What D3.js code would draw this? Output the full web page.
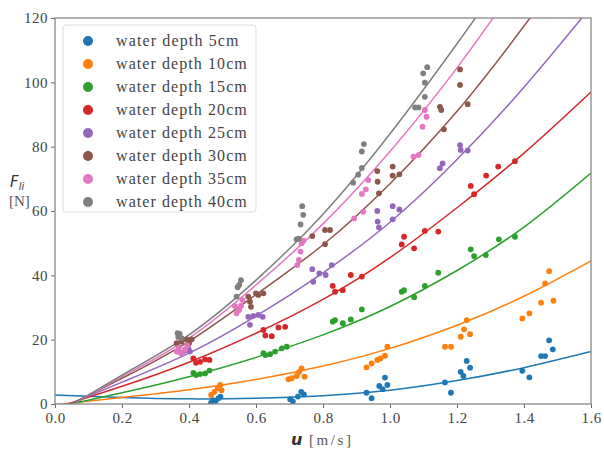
<!DOCTYPE html>
<html>
<head>
<meta charset="utf-8">
<script src="https://cdn.jsdelivr.net/npm/d3@7"></script>
<style>
  html, body { margin: 0; padding: 0; background: #fff; }
  svg { display: block; }
</style>
</head>
<body>
<svg id="chart" width="604" height="450"></svg>
<script>
// ---------- data ----------
const seriesNames = ["water depth 5cm","water depth 10cm","water depth 15cm","water depth 20cm",
                     "water depth 25cm","water depth 30cm","water depth 35cm","water depth 40cm"];
const colors = ["#1f77b4","#ff7f0e","#2ca02c","#d62728","#9467bd","#8c564b","#e377c2","#7f7f7f"];

const xTicks = [0.0,0.2,0.4,0.6,0.8,1.0,1.2,1.4,1.6];
const yTicks = [0,20,40,60,80,100,120];

// measured points (u [m/s], F [N])
const u5  = [0.466,0.472,0.480,0.488,0.494,0.702,0.710,0.725,0.735,0.743,0.930,0.945,0.968,0.978,0.985,0.992,1.164,1.182,1.211,1.219,1.229,1.239,1.395,1.416,1.451,1.463,1.475,1.486];
const F5  = [0.4,1.2,1.0,1.8,2.3,1.5,0.8,2.3,3.8,3.0,3.5,1.8,5.6,4.6,8.2,5.9,6.7,3.5,10.0,8.7,13.4,11.3,10.3,8.3,14.9,14.9,19.8,17.0];
const u10 = [0.466,0.476,0.486,0.493,0.497,0.697,0.707,0.721,0.729,0.736,0.745,0.930,0.945,0.962,0.972,0.985,0.992,1.164,1.182,1.211,1.221,1.229,1.239,1.395,1.416,1.451,1.463,1.475,1.488];
const F10 = [2.8,3.8,4.9,5.9,4.3,7.7,8.0,8.7,10.0,11.1,8.5,11.4,12.6,13.7,14.2,15.0,17.8,17.8,17.8,20.9,23.2,26.1,21.7,26.6,28.2,31.5,37.5,41.3,32.1];
const u15 = [0.413,0.421,0.433,0.448,0.461,0.622,0.628,0.642,0.657,0.677,0.692,0.829,0.836,0.859,0.883,0.916,1.035,1.042,1.072,1.104,1.144,1.241,1.251,1.286,1.325,1.373];
const F15 = [9.7,9.0,9.3,9.5,10.4,15.8,15.2,15.5,16.3,17.3,17.8,25.6,26.1,25.1,26.3,29.4,34.9,35.4,33.2,36.7,40.8,48.1,46.0,46.3,51.2,52.0];
const u20 = [0.413,0.421,0.433,0.448,0.461,0.622,0.628,0.647,0.667,0.687,0.829,0.836,0.859,0.883,0.916,1.035,1.042,1.072,1.104,1.144,1.241,1.251,1.287,1.323,1.373];
const F20 = [14.2,12.8,13.1,13.9,13.7,23.0,21.3,21.1,23.8,24.0,36.7,34.9,35.4,40.1,39.6,49.6,52.0,48.4,53.8,53.6,67.8,65.2,71.0,73.8,75.5];
const u25 = [0.368,0.378,0.388,0.398,0.403,0.577,0.582,0.592,0.607,0.620,0.768,0.771,0.789,0.808,0.826,0.962,0.963,0.967,1.008,1.008,1.028,1.149,1.157,1.209,1.211,1.232];
const F25 = [16.3,15.8,16.6,17.3,16.3,27.1,24.6,27.4,27.7,27.1,41.9,38.0,40.6,40.1,43.2,60.0,56.7,54.9,61.5,57.4,60.5,73.3,74.8,80.5,79.0,78.8];
const u30 = [0.363,0.378,0.393,0.400,0.408,0.577,0.582,0.585,0.600,0.607,0.622,0.768,0.806,0.806,0.821,0.962,0.963,0.967,1.008,1.008,1.028,1.149,1.153,1.161,1.209,1.209,1.232];
const F30 = [18.9,19.4,20.1,18.9,20.1,33.4,31.8,30.2,34.4,33.9,34.4,52.2,54.1,49.7,54.1,72.4,69.1,65.5,73.8,71.0,71.4,92.4,91.4,85.4,104.0,99.2,93.2];
const u35 = [0.363,0.370,0.378,0.388,0.395,0.537,0.542,0.550,0.555,0.560,0.723,0.728,0.733,0.736,0.742,0.893,0.916,0.920,0.928,0.935,1.070,1.085,1.097,1.104,1.109];
const F35 = [16.3,17.5,15.8,17.0,18.2,30.5,28.2,29.2,30.5,32.3,43.2,44.8,47.4,50.0,50.8,57.7,65.3,59.8,66.7,69.6,76.9,77.4,86.2,91.4,89.3];
const u40 = [0.366,0.368,0.372,0.378,0.542,0.545,0.550,0.555,0.721,0.728,0.733,0.738,0.741,0.890,0.905,0.916,0.916,0.922,1.075,1.085,1.099,1.104,1.104,1.111];
const F40 = [22.0,20.8,21.8,20.5,33.4,36.3,37.0,38.5,51.2,51.4,55.8,61.5,58.8,68.8,71.3,73.4,78.5,80.8,92.2,92.2,102.8,95.5,99.9,104.7];

// fitted curves at common u values
const fitU   = [0,0.2,0.4,0.6,0.8,1.0,1.2,1.4,1.6];
const fit5   = [2.8,2.0,1.6,1.8,2.6,4.3,7.3,11.3,16.3];
const fit10  = [-0.2,2.0,4.4,7.6,11.8,17.3,24.5,33.5,44.5];
const fit15  = [-1.1,3.5,8.5,14.5,21.5,30.3,41.5,55.0,71.8];
const fit20  = [-1.3,5.5,13.0,22.0,32.5,45.5,61.0,78.0,97.0];
const fit25  = [-1.9,6.8,15.8,27.3,40.8,56.5,76.0,98.5,123.5];
const fit30  = [-2.5,8.0,19.5,34.0,49.5,68.5,91.0,117.5,146.0];
const fit35  = [-3.3,8.5,20.5,37.0,56.0,78.5,104.5,134.0,166.0];
const fit40  = [-3.6,9.0,21.5,38.5,59.0,84.0,112.0,142.0,175.0];

const pointsU = [u5,u10,u15,u20,u25,u30,u35,u40];
const pointsF = [F5,F10,F15,F20,F25,F30,F35,F40];
const fits    = [fit5,fit10,fit15,fit20,fit25,fit30,fit35,fit40];

// ---------- layout ----------
const svg = d3.select("#chart");
const L = 55, R = 591, T = 18, B = 404;
const x = d3.scaleLinear().domain([0,1.6]).range([L,R]);
const y = d3.scaleLinear().domain([0,120]).range([B,T]);

const serifFont = "'Liberation Serif', 'Times New Roman', 'DejaVu Serif', serif";

svg.append("defs").append("clipPath").attr("id","plotclip")
  .append("rect").attr("x",L).attr("y",T).attr("width",R-L).attr("height",B-T);

// curves
const line = d3.line().x(d=>x(d[0])).y(d=>y(d[1])).curve(d3.curveNatural);
const gCurves = svg.append("g").attr("clip-path","url(#plotclip)");
fits.forEach((f,i)=>{
  gCurves.append("path")
    .attr("d", line(fitU.map((u,k)=>[u,f[k]])))
    .attr("fill","none").attr("stroke",colors[i]).attr("stroke-width",1.5);
});

// points
const gPts = svg.append("g").attr("clip-path","url(#plotclip)");
pointsU.forEach((us,i)=>{
  gPts.selectAll(null).data(us.map((u,k)=>[u,pointsF[i][k]])).join("circle")
    .attr("cx",d=>x(d[0])).attr("cy",d=>y(d[1])).attr("r",2.9)
    .attr("fill",colors[i]);
});

// axes
const xAxis = d3.axisBottom(x).tickValues(xTicks).tickFormat(d3.format(".1f")).tickSize(4).tickPadding(4);
const yAxis = d3.axisLeft(y).tickValues(yTicks).tickFormat(d3.format("d")).tickSize(4).tickPadding(3);
const gx = svg.append("g").attr("transform",`translate(0,${B})`).call(xAxis);
const gy = svg.append("g").attr("transform",`translate(${L},0)`).call(yAxis);
[gx,gy].forEach(g=>{
  g.attr("font-family", null);
  g.select(".domain").remove();
  g.selectAll(".tick line").attr("stroke","#666");
  g.selectAll(".tick text").attr("fill","#444")
    .style("font-family",serifFont).style("font-size","15px").style("letter-spacing","0.5px");
});

// frame
svg.append("rect").attr("x",L).attr("y",T).attr("width",R-L).attr("height",B-T)
  .attr("fill","none").attr("stroke","#888").attr("stroke-width",1.3);

// axis labels
const yl = svg.append("text").attr("x",10).attr("y",187).attr("fill","#333");
yl.append("tspan").text("F").style("font-family","'DejaVu Sans', sans-serif").style("font-style","italic").style("font-size","15px");
yl.append("tspan").text("li").attr("dy",3).style("font-family","'DejaVu Sans', sans-serif").style("font-style","italic").style("font-size","10px");
svg.append("text").attr("x",9).attr("y",206).attr("fill","#555").text("[N]")
  .style("font-family",serifFont).style("font-size","15px");

const xl = svg.append("text").attr("x",291).attr("y",445).attr("fill","#333");
xl.append("tspan").text("u").style("font-family","'DejaVu Sans', sans-serif").style("font-style","italic").style("font-weight","bold").style("font-size","16px");
svg.append("text").attr("x",309).attr("y",445).attr("fill","#555").text("[m/s]")
  .style("font-family",serifFont).style("font-size","15px")
  .attr("textLength",42).attr("lengthAdjust","spacing");

// legend
const lg = svg.append("g");
lg.append("rect").attr("x",63).attr("y",25).attr("width",193).attr("height",187).attr("rx",3)
  .attr("fill","#fff").attr("fill-opacity",0.9).attr("stroke","#ddd").attr("stroke-width",1);
seriesNames.forEach((name,i)=>{
  const cy = 41 + i*23;
  lg.append("circle").attr("cx",88).attr("cy",cy).attr("r",5).attr("fill",colors[i]);
  lg.append("text").attr("x",116).attr("y",cy+5).text(name).attr("fill","#444")
    .style("font-family",serifFont).style("font-size","16px")
    .attr("textLength", name.length*8.3 - 2).attr("lengthAdjust","spacing");
});
</script>
</body>
</html>
